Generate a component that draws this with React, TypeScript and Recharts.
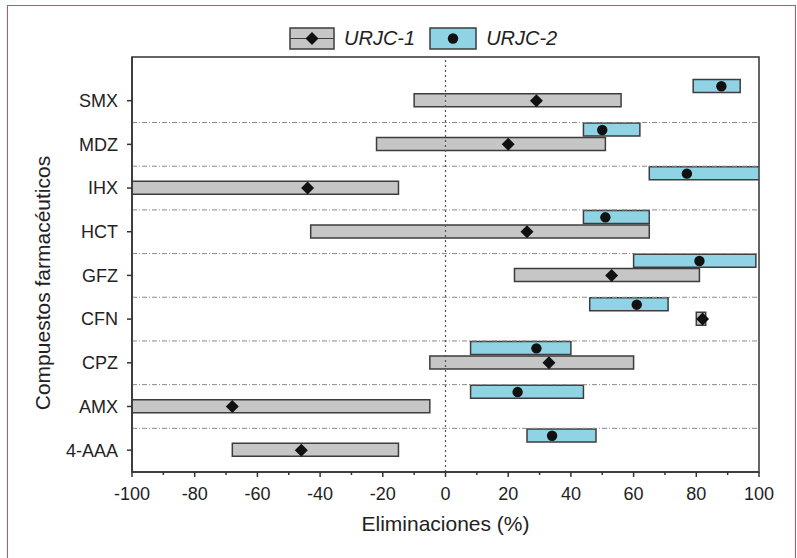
import React from 'react'
import {
  ComposedChart, Bar, Scatter, XAxis, YAxis,
  ReferenceLine, ReferenceArea,
} from 'recharts'

// categories top to bottom
const compuestos = ['SMX', 'MDZ', 'IHX', 'HCT', 'GFZ', 'CFN', 'CPZ', 'AMX', '4-AAA']

// URJC-1 range and mean (%)
const urjc1Min = [-10, -22, -100, -43, 22, 80, -5, -100, -68]
const urjc1Max = [56, 51, -15, 65, 81, 83, 60, -5, -15]
const urjc1Mean = [29, 20, -44, 26, 53, 82, 33, -68, -46]

// URJC-2 range and mean (%)
const urjc2Min = [79, 44, 65, 44, 60, 46, 8, 8, 26]
const urjc2Max = [94, 62, 100, 65, 99, 71, 40, 44, 48]
const urjc2Mean = [88, 50, 77, 51, 81, 61, 29, 23, 34]

const xTicks = [-100, -90, -80, -70, -60, -50, -40, -30, -20, -10, 0, 10, 20, 30, 40, 50, 60, 70, 80, 90, 100]

const GRAY = '#c6c6c6'
const BLUE = '#8fd3e4'
const EDGE = '#3d3d3d'
const AXIS = '#333'
const TXT = '#222'
const BLUE_SHIFT = 0.33
const TICK_SIZE = 5
const TICK_MARGIN = 10

// y grows downwards in vertical layout: SMX = 1 at the top
const data = compuestos.map((c, i) => ({
  name: c,
  pos: i + 1,
  posB: i + 1 - BLUE_SHIFT,
  r1: [urjc1Min[i], urjc1Max[i]],
  m1: urjc1Mean[i],
  r2: [urjc2Min[i], urjc2Max[i]],
  m2: urjc2Mean[i],
}))
const yTicks = data.map((d) => d.pos)
const separadores = data.slice(1).map((d) => d.pos - 0.5)

function Diamond(p: any) {
  const { cx, cy } = p
  const s = 6.5
  return <path d={`M${cx},${cy - s}L${cx + s},${cy}L${cx},${cy + s}L${cx - s},${cy}Z`} fill="#111" />
}

function Dot(p: any) {
  return <circle cx={p.cx} cy={p.cy} r={5.2} fill="#111" />
}

function XTick(props: any) {
  const { x, y, payload } = props
  const v = payload.value
  const major = v % 20 === 0
  const axisY = y - TICK_SIZE - TICK_MARGIN
  return (
    <g>
      <line x1={x} x2={x} y1={axisY} y2={axisY + (major ? 5 : 3)} stroke={AXIS} strokeWidth={1.5} />
      {major && (
        <text x={x} y={y} dy="0.71em" textAnchor="middle" fontSize={18} fill={TXT}>{v}</text>
      )}
    </g>
  )
}

function Leyenda() {
  return (
    <div style={{ position: 'absolute', left: 289, top: 27, display: 'flex', alignItems: 'center', fontSize: 20, fontStyle: 'italic', color: TXT }}>
      <svg width={46} height={23}>
        <rect x={1} y={1} width={44} height={21} fill={GRAY} stroke={EDGE} strokeWidth={1.5} />
        <line x1={1} x2={45} y1={11.5} y2={11.5} stroke={EDGE} strokeWidth={1.2} />
        <Diamond cx={23} cy={11.5} />
      </svg>
      <span style={{ marginLeft: 9, marginRight: 14 }}>URJC-1</span>
      <svg width={48} height={23}>
        <rect x={1} y={1} width={46} height={21} fill={BLUE} stroke={EDGE} strokeWidth={1.5} />
        <Dot cx={24} cy={11.5} />
      </svg>
      <span style={{ marginLeft: 9 }}>URJC-2</span>
    </div>
  )
}

export default function App() {
  return (
    <div style={{ position: 'absolute', left: 0, top: 0, width: 797, height: 558, overflow: 'hidden', background: '#fff', fontFamily: '"Liberation Sans", Arial, sans-serif' }}>
      <div style={{ position: 'absolute', left: 7, top: 5, width: 789, height: 600, border: '1.5px solid #e2474c', boxSizing: 'border-box' }} />
      <Leyenda />
      <div style={{ position: 'absolute', left: 43, top: 283, transform: 'translate(-50%, -50%) rotate(-90deg)', whiteSpace: 'nowrap', fontSize: 21, color: TXT }}>
        Compuestos farmacéuticos
      </div>
      <div style={{ position: 'absolute', left: 0, top: 0 }}>
        <ComposedChart
          width={797}
          height={558}
          layout="vertical"
          data={data}
          margin={{ top: 57, right: 38, bottom: 20, left: 0 }}
        >
          <XAxis
            type="number"
            domain={[-100, 100]}
            ticks={xTicks}
            interval={0}
            allowDataOverflow
            tick={<XTick />}
            tickLine={false}
            tickSize={TICK_SIZE}
            tickMargin={TICK_MARGIN}
            height={66}
            axisLine={{ stroke: AXIS, strokeWidth: 1.5 }}
            label={{ value: 'Eliminaciones (%)', position: 'insideBottom', offset: 7, fontSize: 21, fill: TXT }}
          />
          <YAxis
            yAxisId="g"
            type="number"
            dataKey="pos"
            domain={[0, 9.5]}
            ticks={yTicks}
            interval={0}
            allowDataOverflow
            tickFormatter={(v) => compuestos[v - 1]}
            width={132}
            tickSize={5}
            tickMargin={9}
            tick={{ fontSize: 18, fill: TXT }}
            tickLine={{ stroke: AXIS, strokeWidth: 1.5 }}
            axisLine={{ stroke: AXIS, strokeWidth: 1.5 }}
          />
          <YAxis yAxisId="b" type="number" dataKey="posB" domain={[0, 9.5]} allowDataOverflow hide width={0} />
          {separadores.map((y) => (
            <ReferenceLine key={y} yAxisId="g" y={y} stroke="#8a8a8a" strokeWidth={1} strokeDasharray="5 2 1 2" />
          ))}
          <ReferenceLine yAxisId="g" x={0} stroke="#555" strokeWidth={1.2} strokeDasharray="2 3" />
          <Bar yAxisId="g" dataKey="r1" barSize={13} fill={GRAY} stroke={EDGE} strokeWidth={1.5} isAnimationActive={false} />
          <Bar yAxisId="b" dataKey="r2" barSize={13} fill={BLUE} stroke={EDGE} strokeWidth={1.5} isAnimationActive={false} />
          <Scatter yAxisId="g" dataKey="m1" shape={<Diamond />} isAnimationActive={false} />
          <Scatter yAxisId="b" dataKey="m2" shape={<Dot />} isAnimationActive={false} />
          <ReferenceArea yAxisId="g" x1={-100} x2={100} y1={0} y2={9.5} fill="none" stroke={AXIS} strokeWidth={1.5} />
        </ComposedChart>
      </div>
    </div>
  )
}
